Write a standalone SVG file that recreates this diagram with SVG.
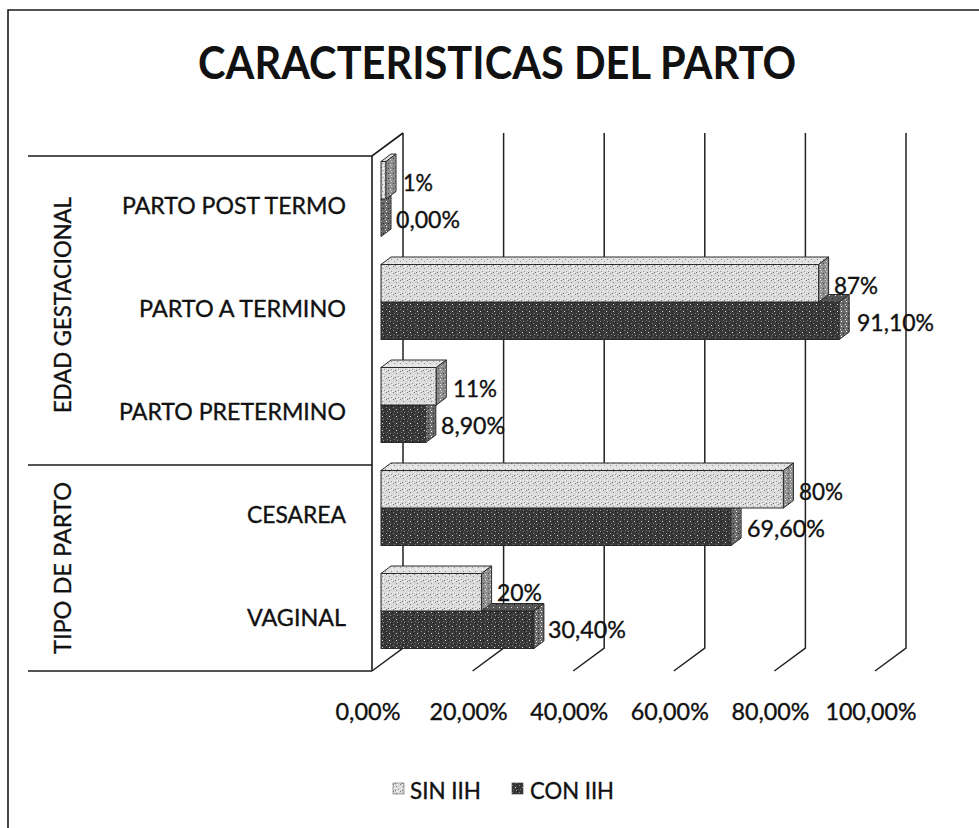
<svg xmlns="http://www.w3.org/2000/svg" width="979" height="828" viewBox="0 0 979 828">
<style>
text{font-family:Lato,"Open Sans","Liberation Sans",sans-serif;fill:#111;}
.t{font-size:23px;stroke:#111;stroke-width:0.35px;}
.title{font-size:46px;font-weight:bold;}
.ln{fill:none;stroke:#1a1a1a;stroke-width:1.6;}
.grid{fill:none;stroke:#222;stroke-width:1.5;}
.bar{stroke:#2a2a2a;stroke-width:1;}
.sinF{fill:url(#pSin);}
.sinT{fill:url(#pSinT);}
.sinS{fill:url(#pSinS);}
.conF{fill:url(#pCon);}
.conT{fill:url(#pConT);}
.conS{fill:url(#pConS);}
</style>
<defs>
<pattern id="pSin" width="7" height="7" patternUnits="userSpaceOnUse">
<rect width="7" height="7" fill="#dadada"/>
<rect x="1" y="0" width="1" height="1" fill="#7a7a7a"/>
<rect x="4" y="2" width="1" height="1" fill="#8c8c8c"/>
<rect x="2" y="4" width="1" height="1" fill="#f5f5f5"/>
<rect x="6" y="5" width="1" height="1" fill="#999"/>
<rect x="0" y="6" width="1" height="1" fill="#fff"/>
<rect x="5" y="0" width="1" height="1" fill="#fff"/>
<rect x="3" y="6" width="1" height="1" fill="#6e6e6e"/>
<rect x="5" y="4" width="1" height="1" fill="#f0f0f0"/>
</pattern>
<pattern id="pSinT" width="6" height="6" patternUnits="userSpaceOnUse">
<rect width="6" height="6" fill="#e2e2e2"/>
<rect x="1" y="1" width="1" height="1" fill="#888"/>
<rect x="4" y="3" width="1" height="1" fill="#999"/>
<rect x="2" y="5" width="1" height="1" fill="#fff"/>
</pattern>
<pattern id="pSinS" width="5" height="5" patternUnits="userSpaceOnUse">
<rect width="5" height="5" fill="#8e8e8e"/>
<rect x="1" y="1" width="1" height="1" fill="#d0d0d0"/>
<rect x="3" y="3" width="1" height="1" fill="#444"/>
<rect x="0" y="4" width="1" height="1" fill="#eee"/>
</pattern>
<pattern id="pCon" width="7" height="7" patternUnits="userSpaceOnUse">
<rect width="7" height="7" fill="#383838"/>
<rect x="1" y="1" width="1" height="1" fill="#8a8a8a"/>
<rect x="4" y="3" width="1" height="1" fill="#d8d8d8"/>
<rect x="2" y="5" width="1" height="1" fill="#777"/>
<rect x="6" y="0" width="1" height="1" fill="#1a1a1a"/>
<rect x="5" y="6" width="1" height="1" fill="#999"/>
<rect x="0" y="3" width="1" height="1" fill="#222"/>
</pattern>
<pattern id="pConT" width="6" height="6" patternUnits="userSpaceOnUse">
<rect width="6" height="6" fill="#555"/>
<rect x="1" y="1" width="1" height="1" fill="#ddd"/>
<rect x="4" y="4" width="1" height="1" fill="#222"/>
</pattern>
<pattern id="pConS" width="5" height="5" patternUnits="userSpaceOnUse">
<rect width="5" height="5" fill="#6a6a6a"/>
<rect x="1" y="1" width="1" height="1" fill="#fff"/>
<rect x="3" y="3" width="1" height="1" fill="#222"/>
<rect x="0" y="4" width="1" height="1" fill="#ccc"/>
</pattern>
</defs>
<rect width="979" height="828" fill="#fff"/>
<path class="ln" d="M8,828 V10 H979"/>
<text class="title" x="497" y="79" text-anchor="middle" textLength="598" lengthAdjust="spacingAndGlyphs">CARACTERISTICAS DEL PARTO</text>

<g id="connectors">
<path class="grid" d="M403,133 V648 L372,671"/>
<path class="grid" d="M503.6,133 V648 L472.6,671"/>
<path class="grid" d="M604.2,133 V648 L573.2,671"/>
<path class="grid" d="M704.8,133 V648 L673.8,671"/>
<path class="grid" d="M805.4,133 V648 L774.4,671"/>
<path class="grid" d="M906,133 V648 L875,671"/>
<path class="ln" d="M28,156 H372 L403,133"/>
<path class="ln" d="M372,156 V671"/>
<path class="ln" d="M28,465 H372"/>
<path class="ln" d="M28,671 H372"/>
</g>

<g id="axis-labels">
<text class="t" x="346" y="214" text-anchor="end" textLength="224" lengthAdjust="spacingAndGlyphs">PARTO POST TERMO</text>
<text class="t" x="346" y="317" text-anchor="end" textLength="207" lengthAdjust="spacingAndGlyphs">PARTO A TERMINO</text>
<text class="t" x="346" y="420" text-anchor="end" textLength="227" lengthAdjust="spacingAndGlyphs">PARTO PRETERMINO</text>
<text class="t" x="346" y="523" text-anchor="end" textLength="99" lengthAdjust="spacingAndGlyphs">CESAREA</text>
<text class="t" x="346" y="626" text-anchor="end" textLength="99" lengthAdjust="spacingAndGlyphs">VAGINAL</text>
<text class="t" transform="translate(71,305) rotate(-90)" text-anchor="middle" textLength="216" lengthAdjust="spacingAndGlyphs">EDAD GESTACIONAL</text>
<text class="t" transform="translate(71,568) rotate(-90)" text-anchor="middle" textLength="172" lengthAdjust="spacingAndGlyphs">TIPO DE PARTO</text>
<text class="t" x="368" y="720" text-anchor="middle" textLength="65" lengthAdjust="spacingAndGlyphs">0,00%</text>
<text class="t" x="468.6" y="720" text-anchor="middle" textLength="78" lengthAdjust="spacingAndGlyphs">20,00%</text>
<text class="t" x="569.2" y="720" text-anchor="middle" textLength="78" lengthAdjust="spacingAndGlyphs">40,00%</text>
<text class="t" x="669.8" y="720" text-anchor="middle" textLength="78" lengthAdjust="spacingAndGlyphs">60,00%</text>
<text class="t" x="770.4" y="720" text-anchor="middle" textLength="78" lengthAdjust="spacingAndGlyphs">80,00%</text>
<text class="t" x="871" y="720" text-anchor="middle" textLength="91" lengthAdjust="spacingAndGlyphs">100,00%</text>
</g>

<g id="post-termo">
<polygon class="bar conS" points="381,199 391,191.5 391,229 381,236.5"/>
<rect class="bar sinF" x="381" y="161.5" width="5" height="37.5"/>
<polygon class="bar sinT" points="381,161.5 386,161.5 396,154 391,154"/>
<polygon class="bar sinS" points="386,161.5 396,154 396,191.5 386,199"/>
<text class="t" x="403" y="191" textLength="30" lengthAdjust="spacingAndGlyphs">1%</text>
<text class="t" x="396" y="228" textLength="64" lengthAdjust="spacingAndGlyphs">0,00%</text>
</g>

<g id="a-termino">
<rect class="bar conF" x="381" y="302" width="458.2" height="37.5"/>
<polygon class="bar conT" points="381,302 839.2,302 849.2,294.5 391,294.5"/>
<polygon class="bar conS" points="839.2,302 849.2,294.5 849.2,332 839.2,339.5"/>
<rect class="bar sinF" x="381" y="264.5" width="437.6" height="37.5"/>
<polygon class="bar sinT" points="381,264.5 818.6,264.5 828.6,257 391,257"/>
<polygon class="bar sinS" points="818.6,264.5 828.6,257 828.6,294.5 818.6,302"/>
<text class="t" x="834" y="294" textLength="44" lengthAdjust="spacingAndGlyphs">87%</text>
<text class="t" x="857" y="331" textLength="77" lengthAdjust="spacingAndGlyphs">91,10%</text>
</g>

<g id="pretermino">
<rect class="bar conF" x="381" y="405" width="44.8" height="37.5"/>
<polygon class="bar conT" points="381,405 425.8,405 435.8,397.5 391,397.5"/>
<polygon class="bar conS" points="425.8,405 435.8,397.5 435.8,435 425.8,442.5"/>
<rect class="bar sinF" x="381" y="367.5" width="55.3" height="37.5"/>
<polygon class="bar sinT" points="381,367.5 436.3,367.5 446.3,360 391,360"/>
<polygon class="bar sinS" points="436.3,367.5 446.3,360 446.3,397.5 436.3,405"/>
<text class="t" x="453" y="397" textLength="44" lengthAdjust="spacingAndGlyphs">11%</text>
<text class="t" x="441" y="434" textLength="64" lengthAdjust="spacingAndGlyphs">8,90%</text>
</g>

<g id="cesarea">
<rect class="bar conF" x="381" y="508" width="350.1" height="37.5"/>
<polygon class="bar conT" points="381,508 731.1,508 741.1,500.5 391,500.5"/>
<polygon class="bar conS" points="731.1,508 741.1,500.5 741.1,538 731.1,545.5"/>
<rect class="bar sinF" x="381" y="470.5" width="402.4" height="37.5"/>
<polygon class="bar sinT" points="381,470.5 783.4,470.5 793.4,463 391,463"/>
<polygon class="bar sinS" points="783.4,470.5 793.4,463 793.4,500.5 783.4,508"/>
<text class="t" x="799" y="500" textLength="44" lengthAdjust="spacingAndGlyphs">80%</text>
<text class="t" x="747" y="537" textLength="78" lengthAdjust="spacingAndGlyphs">69,60%</text>
</g>

<g id="vaginal">
<rect class="bar conF" x="381" y="611" width="152.9" height="37.5"/>
<polygon class="bar conT" points="381,611 533.9,611 543.9,603.5 391,603.5"/>
<polygon class="bar conS" points="533.9,611 543.9,603.5 543.9,641 533.9,648.5"/>
<rect class="bar sinF" x="381" y="573.5" width="100.6" height="37.5"/>
<polygon class="bar sinT" points="381,573.5 481.6,573.5 491.6,566 391,566"/>
<polygon class="bar sinS" points="481.6,573.5 491.6,566 491.6,603.5 481.6,611"/>
<text class="t" x="497" y="601" textLength="45" lengthAdjust="spacingAndGlyphs">20%</text>
<text class="t" x="548" y="638" textLength="78" lengthAdjust="spacingAndGlyphs">30,40%</text>
</g>

<g id="legend">
<rect class="sinF" x="393" y="783" width="11" height="11" stroke="#666" stroke-width="0.6"/>
<text class="t" x="410" y="799" textLength="71" lengthAdjust="spacingAndGlyphs">SIN IIH</text>
<rect class="conF" x="512" y="783" width="11" height="11" stroke="#333" stroke-width="0.6"/>
<text class="t" x="530" y="799" textLength="84" lengthAdjust="spacingAndGlyphs">CON IIH</text>
</g>
</svg>
